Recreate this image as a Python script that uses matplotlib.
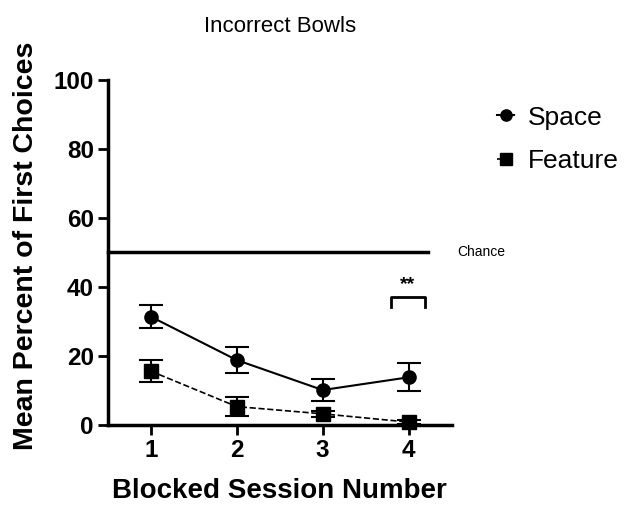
import numpy as np
import matplotlib.pyplot as plt

plt.rcParams['font.family'] = ['Liberation Sans', 'DejaVu Sans']

sessions = [1, 2, 3, 4]
space_mean = [31.4, 18.8, 10.1, 13.8]
space_err = [3.4, 3.7, 3.1, 4.1]
feature_mean = [15.6, 5.3, 3.2, 0.8]
feature_err = [3.2, 2.7, 0.8, 0.5]
chance = 50

fig = plt.figure(figsize=(6.3, 5.07), dpi=100)
ax = fig.add_axes([0.171, 0.162, 0.546, 0.68])

ax.errorbar(sessions, space_mean, yerr=space_err, color='black', marker='o',
            markersize=9.5, linestyle='-', linewidth=1.5, capsize=8.5,
            elinewidth=1.5, capthick=1.5, clip_on=False, label='Space', zorder=3)
ax.errorbar(sessions, feature_mean, yerr=feature_err, color='black', marker='s',
            markersize=9.5, linestyle='--', linewidth=1.2, capsize=8.5,
            elinewidth=1.5, capthick=1.5, clip_on=False, label='Feature', zorder=3)

ax.plot([0.5, 4.22], [chance, chance], color='black', linewidth=2.5, clip_on=False)
ax.text(4.57, chance, 'Chance', fontsize=10, va='center', ha='left')

# significance bracket at session 4
ax.plot([3.79, 3.79, 4.19, 4.19], [34.3, 37.0, 37.0, 34.3], color='black',
        linewidth=2, clip_on=False)
ax.text(3.99, 38.3, '**', fontsize=14, fontweight='bold', ha='center', va='bottom')

ax.set_xlim(0.5, 4.5)
ax.set_ylim(0, 100)
ax.set_xticks(sessions)
ax.set_yticks([0, 20, 40, 60, 80, 100])
for s in ['top', 'right']:
    ax.spines[s].set_visible(False)
for s in ['left', 'bottom']:
    ax.spines[s].set_linewidth(2.5)
ax.tick_params(width=2, length=7, labelsize=17.5, pad=3)
for lab in ax.get_xticklabels() + ax.get_yticklabels():
    lab.set_fontweight('bold')

ax.set_xlabel('Blocked Session Number', fontsize=20, fontweight='bold', va='baseline')
ax.set_ylabel('Mean Percent of First Choices', fontsize=20.5, fontweight='bold')
ax.xaxis.set_label_coords(0.5, -0.213)
ax.yaxis.set_label_coords(-0.2, 0.519)
fig.text(0.444, 0.947, 'Incorrect Bowls', fontsize=16, ha='center', va='center')

handles, labels = ax.get_legend_handles_labels()
handles = [h[0] for h in handles]
fig.legend(handles, labels, loc='center left', bbox_to_anchor=(0.789, 1 - 139.5 / 507),
           frameon=False, fontsize=19, handlelength=0.65, handletextpad=0.5,
           labelspacing=0.75, markerscale=0.85, borderpad=0, borderaxespad=0)

fig.savefig('out.png', dpi=100)
